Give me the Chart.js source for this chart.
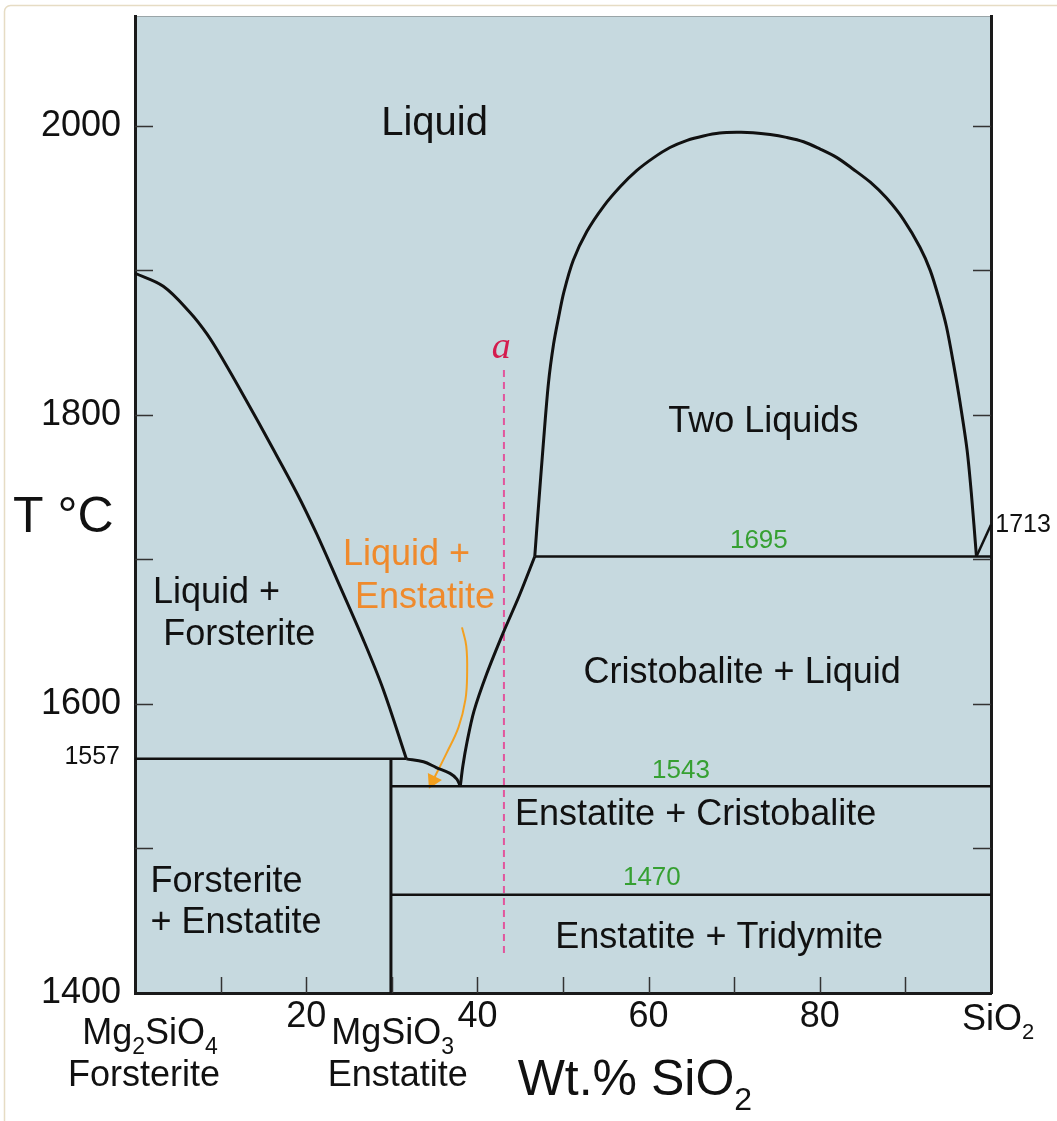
<!DOCTYPE html>
<html>
<head>
<meta charset="utf-8">
<script src="https://cdn.jsdelivr.net/npm/chart.js@4.4.1/dist/chart.umd.min.js"></script>
<style>
html,body{margin:0;padding:0;background:#fff;}
#wrap{width:1057px;height:1121px;position:relative;}
canvas{display:block;}
</style>
</head>
<body>
<div id="wrap"><canvas id="c" width="1057" height="1121"></canvas></div>
<script>
// ---------------- DATA ----------------
// x = Wt.% SiO2, T = temperature (°C)
const forsteriteLiquidusX = [0, 3.3, 6.4, 8.4, 10.3, 13.0, 15.8, 18.9, 21.2, 23.6, 26.7, 29.0, 31.7];
const forsteriteLiquidusT = [1898, 1889, 1871, 1856, 1838, 1810, 1780, 1746, 1718, 1686, 1644, 1610, 1562];

const enstatiteLiquidusX = [31.7, 33.7, 35.2, 36.8, 37.6, 38.0];
const enstatiteLiquidusT = [1562, 1560, 1556, 1552, 1548, 1543];

const cristobaliteLiquidusX = [38.0, 38.3, 38.8, 39.6, 41.1, 43.0, 44.9, 46.7];
const cristobaliteLiquidusT = [1543, 1557, 1574, 1595, 1621, 1649, 1675, 1702];

const solvusX = [46.7, 47.1, 47.7, 48.3, 48.9, 49.5, 50.1, 51.2, 52.8, 54.7, 56.7, 58.6, 60.6, 62.5,
  64.5, 66.4, 68.3, 70.3, 72.2, 74.2, 76.1, 78.1, 80.0, 82.0, 83.9, 85.9, 87.8, 89.8, 91.7, 92.9,
  94.0, 94.8, 95.6, 96.4, 97.2, 97.7, 98.3];
const solvusT = [1702, 1734, 1780, 1822, 1849, 1868, 1885, 1907, 1927, 1944, 1958, 1969, 1978, 1985,
  1990, 1993, 1995, 1995.5, 1995.3, 1994, 1992, 1989, 1984, 1978, 1970, 1961, 1950, 1935, 1916, 1900,
  1879, 1861, 1836, 1808, 1776, 1746, 1702];

const silicaLiquidusX = [98.3, 100];
const silicaLiquidusT = [1702, 1724];

const enstatiteX = 29.9;          // MgSiO3 composition
const peritecticT = 1562;         // labelled 1557
const eutecticT = 1543;           // labelled 1543
const tridymiteT = 1468;          // labelled 1470
const monotecticT = 1702;         // labelled 1695
const peritecticX = 31.7;
const monotecticX = 46.7;

const bulkX = 43.1;               // composition "a"
const bulkT = [1831, 1425];

const arrowX = [38.2, 38.7, 38.8, 38.6, 37.8, 36.4, 34.8];
const arrowT = [1653, 1640, 1621, 1603, 1584, 1566, 1547];

const yTickLabels = [1400, 1600, 1800, 2000];
const xTickLabels = [20, 40, 60, 80];

const isothermLabels = ['1557', '1543', '1470', '1695', '1713'];
const fieldLabels = ['Liquid', 'Liquid +', 'Forsterite', 'Two Liquids', 'Cristobalite + Liquid',
  'Enstatite + Cristobalite', 'Enstatite + Tridymite', 'Forsterite', '+ Enstatite'];
const orangeLabels = ['Liquid +', 'Enstatite'];

// ---------------- STYLE / LAYOUT ----------------
const FONT = "'Liberation Sans', Arial, Helvetica, sans-serif";
const BG = '#c6d9df';
const INK = '#111111';
const GREEN = '#36a032';
const ORANGE_TEXT = '#ef8a2c';
const ORANGE_ARROW = '#f3a020';
const PINK = '#e2559c';
const CRIMSON = '#d41c4e';

function pts(xs, ts) { return xs.map((x, i) => ({x: x, y: ts[i]})); }

function lineDs(data, opts) {
  return Object.assign({
    data: data, showLine: true, borderColor: INK, borderWidth: 3,
    pointRadius: 0, fill: false, clip: 6, tension: 0
  }, opts || {});
}

const datasets = [
  lineDs(pts(forsteriteLiquidusX, forsteriteLiquidusT), {tension: 0.35}),
  lineDs(pts(enstatiteLiquidusX, enstatiteLiquidusT), {tension: 0.35}),
  lineDs(pts(cristobaliteLiquidusX, cristobaliteLiquidusT), {tension: 0.3}),
  lineDs(pts(solvusX, solvusT), {tension: 0.3}),
  lineDs(pts(silicaLiquidusX, silicaLiquidusT), {borderWidth: 2.5}),
  lineDs([{x: 0, y: peritecticT}, {x: peritecticX, y: peritecticT}], {borderWidth: 2.5}),
  lineDs([{x: enstatiteX, y: peritecticT}, {x: enstatiteX, y: 1400}], {borderWidth: 3}),
  lineDs([{x: enstatiteX, y: eutecticT}, {x: 100, y: eutecticT}], {borderWidth: 2.5}),
  lineDs([{x: enstatiteX, y: tridymiteT}, {x: 100, y: tridymiteT}], {borderWidth: 2.5}),
  lineDs([{x: monotecticX, y: monotecticT}, {x: 100, y: monotecticT}], {borderWidth: 2.5}),
  lineDs([{x: bulkX, y: bulkT[0]}, {x: bulkX, y: bulkT[1]}], {borderColor: PINK, borderWidth: 2, borderDash: [7, 5]}),
  lineDs(pts(arrowX, arrowT), {
    borderColor: ORANGE_ARROW, borderWidth: 2, tension: 0.4,
    pointRadius: arrowX.map((_, i) => i === arrowX.length - 1 ? 7 : 0),
    pointStyle: 'triangle', pointRotation: 206,
    pointBackgroundColor: ORANGE_ARROW, pointBorderColor: ORANGE_ARROW
  })
];

// text placements in data coordinates (x: wt.% SiO2, y: °C)
const textItems = [
  {t: fieldLabels[0], x: 35.0, y: 1993.4, size: 40, align: 'center'},
  {t: fieldLabels[1], x: 2.1, y: 1669.6, size: 36, align: 'left'},
  {t: fieldLabels[2], x: 3.3, y: 1640.7, size: 36, align: 'left'},
  {t: fieldLabels[3], x: 62.3, y: 1788.2, size: 36, align: 'left'},
  {t: fieldLabels[4], x: 52.4, y: 1614.3, size: 36, align: 'left'},
  {t: fieldLabels[5], x: 44.4, y: 1516.3, size: 36, align: 'left'},
  {t: fieldLabels[6], x: 49.1, y: 1431.0, size: 36, align: 'left'},
  {t: fieldLabels[7], x: 1.8, y: 1470.1, size: 36, align: 'left'},
  {t: fieldLabels[8], x: 1.8, y: 1441.4, size: 36, align: 'left'},
  {t: orangeLabels[0], x: 24.3, y: 1696.1, size: 36, align: 'left', color: ORANGE_TEXT},
  {t: orangeLabels[1], x: 25.7, y: 1666.3, size: 36, align: 'left', color: ORANGE_TEXT},
  {t: isothermLabels[3], x: 69.5, y: 1707.8, size: 26, align: 'left', color: GREEN},
  {t: isothermLabels[1], x: 60.4, y: 1548.6, size: 26, align: 'left', color: GREEN},
  {t: isothermLabels[2], x: 57.0, y: 1474.8, size: 26, align: 'left', color: GREEN},
  {t: isothermLabels[0], x: -1.75, y: 1563.5, size: 25, align: 'right', base: 'middle'},
  {t: isothermLabels[4], x: 100.5, y: 1723.7, size: 25, align: 'left', base: 'middle'},
  {t: 'a', x: 42.8, y: 1839.2, size: 38, align: 'center', color: CRIMSON, font: "italic {s}px 'Liberation Serif', 'DejaVu Serif', serif"},
  {t: 'T \u00B0C', x: -14.25, y: 1718.9, size: 50, align: 'left'}
];

// rich labels with subscripts: [text, isSub]
const richItems = [
  {segs: [['Mg', 0], ['2', 1], ['SiO', 0], ['4', 1]], x: 1.75, px: 1043.6, size: 36, sub: 23, off: 10, align: 'center'},
  {segs: [['Forsterite', 0]], x: 1.05, px: 1086.4, size: 36, sub: 23, off: 10, align: 'center'},
  {segs: [['MgSiO', 0], ['3', 1]], x: 30.1, px: 1044, size: 36, sub: 23, off: 10, align: 'center'},
  {segs: [['Enstatite', 0]], x: 30.7, px: 1086.4, size: 36, sub: 23, off: 10, align: 'center'},
  {segs: [['SiO', 0], ['2', 1]], x: 96.6, px: 1030, size: 36, sub: 22, off: 9, align: 'left'},
  {segs: [['Wt.% SiO', 0], ['2', 1]], x: 44.7, px: 1095, size: 50, sub: 32, off: 15, align: 'left'}
];

const decorPlugin = {
  id: 'decor',
  beforeDraw(chart) {
    const {ctx, chartArea: a} = chart;
    ctx.save();
    ctx.fillStyle = '#ffffff';
    ctx.fillRect(0, 0, chart.width, chart.height);
    ctx.strokeStyle = '#e6dcc4';
    ctx.lineWidth = 1.5;
    ctx.beginPath();
    if (ctx.roundRect) ctx.roundRect(4.5, 5.5, 1200, 1300, 6); else ctx.rect(4.5, 5.5, 1200, 1300);
    ctx.stroke();
    ctx.fillStyle = BG;
    ctx.fillRect(a.left, a.top, a.right - a.left, a.bottom - a.top);
    ctx.strokeStyle = '#9aa5a8';
    ctx.lineWidth = 1;
    ctx.beginPath();
    ctx.moveTo(a.left, a.top + 0.5);
    ctx.lineTo(a.right, a.top + 0.5);
    ctx.stroke();
    ctx.restore();
  },
  afterDatasetsDraw(chart) {
    const {ctx, chartArea: a, scales} = chart;
    const xs = scales.x, ys = scales.y;
    ctx.save();
    // inward tick marks
    ctx.strokeStyle = '#333';
    ctx.lineWidth = 1.5;
    for (let v = 1500; v <= 2000; v += 100) {
      const py = Math.round(ys.getPixelForValue(v)) + 0.5;
      ctx.beginPath();
      ctx.moveTo(a.left, py); ctx.lineTo(a.left + 18, py);
      ctx.moveTo(a.right, py); ctx.lineTo(a.right - 18, py);
      ctx.stroke();
    }
    for (let v = 10; v <= 90; v += 10) {
      const px = Math.round(xs.getPixelForValue(v)) + 0.5;
      ctx.beginPath();
      ctx.moveTo(px, a.bottom); ctx.lineTo(px, a.bottom - 16);
      ctx.stroke();
    }
    // texts
    for (const it of textItems) {
      const f = it.font ? it.font.replace('{s}', it.size) : it.size + 'px ' + FONT;
      ctx.font = f;
      ctx.fillStyle = it.color || INK;
      ctx.textAlign = it.align;
      ctx.textBaseline = it.base || 'alphabetic';
      ctx.fillText(it.t, xs.getPixelForValue(it.x), ys.getPixelForValue(it.y));
    }
    // rich texts with subscripts
    ctx.textBaseline = 'alphabetic';
    ctx.textAlign = 'left';
    for (const r of richItems) {
      let w = 0;
      for (const [s, sub] of r.segs) {
        ctx.font = (sub ? r.sub : r.size) + 'px ' + FONT;
        w += ctx.measureText(s).width;
      }
      let x = xs.getPixelForValue(r.x);
      if (r.align === 'center') x -= w / 2;
      ctx.fillStyle = INK;
      for (const [s, sub] of r.segs) {
        ctx.font = (sub ? r.sub : r.size) + 'px ' + FONT;
        ctx.fillText(s, x, r.px + (sub ? r.off : 0));
        x += ctx.measureText(s).width;
      }
    }
    ctx.restore();
  }
};

Chart.defaults.font.family = FONT;

function noPad(s) { s.paddingTop = 0; s.paddingBottom = 0; s.paddingLeft = 0; s.paddingRight = 0; }

new Chart(document.getElementById('c'), {
  type: 'scatter',
  data: {datasets: datasets},
  plugins: [decorPlugin],
  options: {
    responsive: false,
    animation: false,
    devicePixelRatio: 1,
    layout: {padding: {top: 16, left: 0, right: 0, bottom: 0}},
    plugins: {legend: {display: false}, tooltip: {enabled: false}},
    scales: {
      x: {
        type: 'linear', position: 'bottom', min: 0, max: 100,
        afterFit(s) { s.height = 128; noPad(s); },
        grid: {display: false, drawTicks: false},
        border: {display: true, color: '#1a1a1a', width: 3},
        ticks: {
          stepSize: 20, padding: 2, autoSkip: false, maxRotation: 0,
          color: INK, font: {size: 36, family: FONT},
          callback: v => xTickLabels.includes(v) ? String(v) : ''
        }
      },
      y: {
        type: 'linear', position: 'left', min: 1400, max: 2076,
        afterFit(s) { s.width = 135; noPad(s); },
        grid: {display: false, drawTicks: false},
        border: {display: true, color: '#1a1a1a', width: 3},
        ticks: {
          stepSize: 100, padding: 14, autoSkip: false,
          color: INK, font: {size: 36, family: FONT},
          callback: v => yTickLabels.includes(v) ? String(v) : ''
        }
      },
      yRight: {
        type: 'linear', position: 'right', min: 1400, max: 2076,
        afterFit(s) { s.width = 66; noPad(s); },
        grid: {display: false, drawTicks: false},
        border: {display: true, color: '#1a1a1a', width: 3},
        ticks: {display: false}
      }
    }
  }
});
</script>
</body>
</html>
